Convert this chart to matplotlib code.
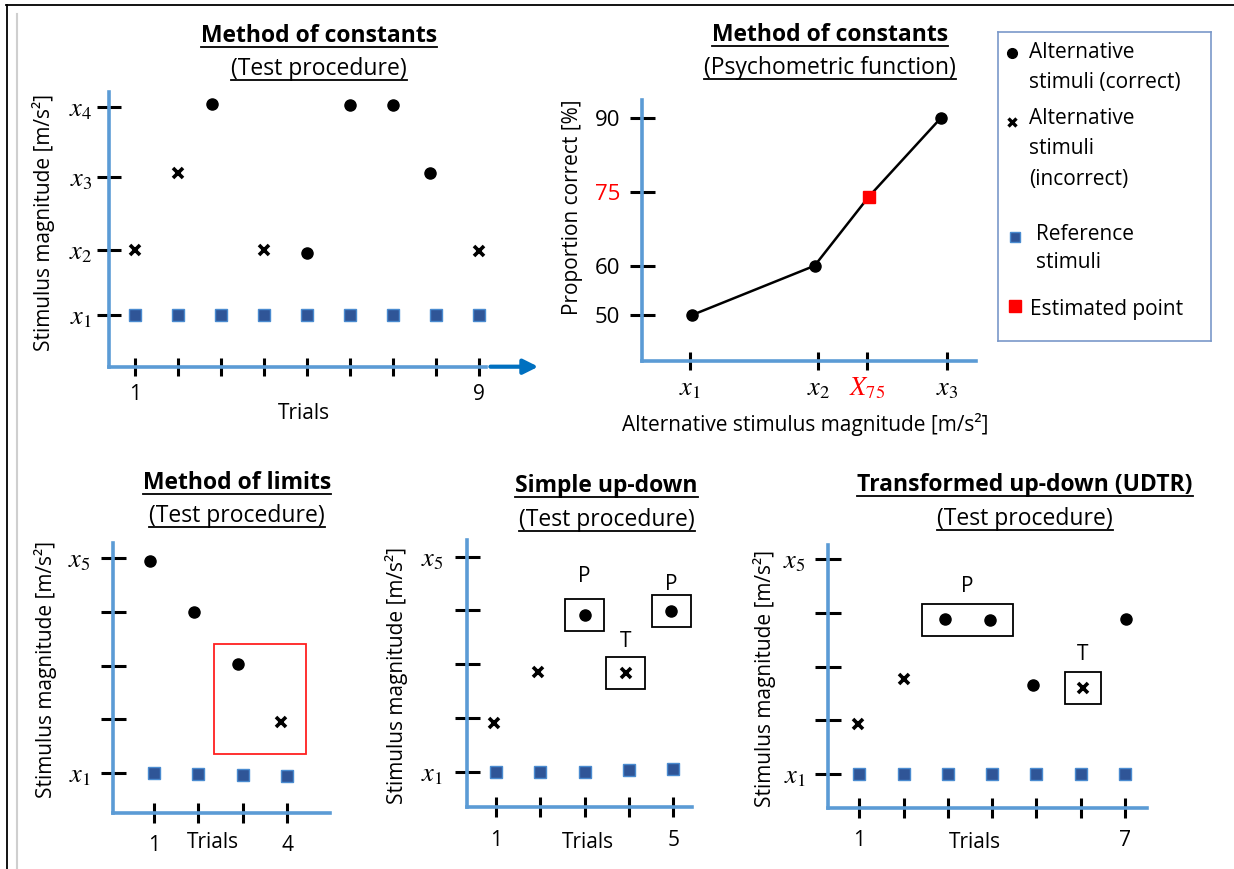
import matplotlib
matplotlib.use('Agg')
import matplotlib.pyplot as plt
from matplotlib.patches import Rectangle
from matplotlib.lines import Line2D

plt.rcParams['font.family'] = ['Open Sans', 'DejaVu Sans']
plt.rcParams['mathtext.fontset'] = 'stix'

W, H = 1234, 869
AXIS_BLUE = '#5B9BD5'
ARROW_BLUE = '#0070C0'
REF_FACE = '#2F5597'
REF_EDGE = '#4A8BD0'

# method of constants - test procedure (9 trials, 4 levels)
const_trials = [1, 2, 3, 4, 5, 6, 7, 8, 9]
const_ref = [1, 1, 1, 1, 1, 1, 1, 1, 1]
const_hit_trials = [2.8, 5, 6, 7, 7.85]
const_hit_levels = [4.05, 1.9, 4.03, 4.03, 3.05]
const_miss_trials = [1, 2, 4, 9]
const_miss_levels = [1.94, 3.05, 1.94, 1.92]
const_levels = [1, 1.94, 3.0, 4]
const_level_labels = ['$x_1$', '$x_2$', '$x_3$', '$x_4$']

# method of constants - psychometric function
psy_x = [1.02, 1.97, 2.39, 2.95]
psy_pc = [50, 60, 74, 90]
est_x = 2.39
est_pc = 74
psy_xticks = [1, 2, 2.38, 3]
psy_xlabels = ['$x_1$', '$x_2$', '$X_{75}$', '$x_3$']
psy_yticks = [50, 60, 75, 90]

# method of limits
lim_trials = [1, 2, 3, 4]
lim_ref = [1, 0.98, 0.96, 0.95]
lim_hit_trials = [0.92, 1.9, 2.9]
lim_hit_levels = [4.93, 4.0, 3.02]
lim_miss_trials = [3.85]
lim_miss_levels = [1.95]

# simple up-down
sud_trials = [1, 2, 3, 4, 5]
sud_ref = [1.0, 0.99, 1.0, 1.04, 1.05]
sud_hit_trials = [3, 4.95]
sud_hit_levels = [3.92, 3.99]
sud_miss_trials = [0.96, 1.94, 3.93]
sud_miss_levels = [1.9, 2.85, 2.83]

# transformed up-down (UDTR)
udtr_trials = [1, 2, 3, 4, 5, 6, 7]
udtr_ref = [1, 1, 1, 1, 1, 1, 1]
udtr_hit_trials = [2.93, 3.95, 4.92, 7.02]
udtr_hit_levels = [3.88, 3.87, 2.66, 3.88]
udtr_miss_trials = [0.97, 2.0, 6.05]
udtr_miss_levels = [1.93, 2.77, 2.6]

levels5 = [1, 2, 3, 4, 5]
levels5_labels = ['$x_1$', '', '', '', '$x_5$']

fig = plt.figure(figsize=(W / 100, H / 100), dpi=100)
fig.patch.set_facecolor('white')


def make_axes(x0, y0, x1, y1):
    # pixel box (top-left origin) -> figure fraction
    return fig.add_axes([x0 / W, 1 - y1 / H, (x1 - x0) / W, (y1 - y0) / H])


def fit_lim(a0, a1, p1, v1, p2, v2):
    s = (v2 - v1) / (p2 - p1)
    return v1 + (a0 - p1) * s, v1 + (a1 - p1) * s


def style(ax, ylen, xlen, ypad, xpad, ysize=19, xsize=15):
    for s in ['top', 'right']:
        ax.spines[s].set_visible(False)
    for s in ['left', 'bottom']:
        ax.spines[s].set_color(AXIS_BLUE)
        ax.spines[s].set_linewidth(2.6)
    ax.tick_params(direction='inout', color='k', width=2.2)
    ax.tick_params(axis='y', length=ylen, pad=ypad, labelsize=ysize)
    ax.tick_params(axis='x', length=xlen, pad=xpad, labelsize=xsize)
    ax.patch.set_alpha(0)


def label_at(ax, box, xlabel, xpos, ylabel, ypos):
    x0, y0, x1, y1 = box
    ax.set_xlabel(xlabel, fontsize=15)
    ax.xaxis.label.set_va('center')
    ax.xaxis.set_label_coords((xpos[0] - x0) / (x1 - x0), (y1 - xpos[1]) / (y1 - y0))
    ax.set_ylabel(ylabel, fontsize=15)
    ax.yaxis.label.set_va('center')
    ax.yaxis.label.set_ha('center')
    ax.yaxis.set_label_coords((ypos[0] - x0) / (x1 - x0), (y1 - ypos[1]) / (y1 - y0))


def draw_trials(ax, trials, ref, hit_t, hit_l, miss_t, miss_l):
    ax.plot(trials, ref, 's', ms=8, mfc=REF_FACE, mec=REF_EDGE, mew=1, clip_on=False)
    ax.plot(hit_t, hit_l, 'o', ms=8, color='k', clip_on=False)
    ax.plot(miss_t, miss_l, 'x', ms=7, mew=2.6, color='k', clip_on=False)


def mark_box(ax, trials, level, text=None, dx=0.44, dy=0.3, text_dy=0.35, color='k'):
    t0, t1 = min(trials) - dx, max(trials) + dx
    ax.add_patch(Rectangle((t0, level - dy), t1 - t0, 2 * dy, fill=False,
                           ec=color, lw=1.3, clip_on=False))
    if text:
        ax.text((t0 + t1) / 2, level + dy + text_dy, text, ha='center', va='center',
                fontsize=15)


underlines = []


def title(cx, base, s, bold):
    t = fig.text(cx / W, 1 - base / H, s, ha='center', va='baseline', fontsize=16.5,
                 fontweight='bold' if bold else 'normal', color='k')
    underlines.append((t, base + 5))


# ---- method of constants: test procedure ----
b1 = (109.3, 92, 485.7, 366.7)
ax1 = make_axes(*b1)
style(ax1, 17.5, 12.5, 3.5, 6)
ax1.set_xlim(fit_lim(b1[0], b1[2], 135, 1, 436, 8))
ax1.set_ylim(fit_lim(b1[3], b1[1], 315, 1, 107.3, 4))
ax1.set_xticks(const_trials)
ax1.set_xticklabels(['1', '', '', '', '', '', '', '', '9'])
ax1.set_yticks(const_levels)
ax1.set_yticklabels(const_level_labels)
draw_trials(ax1, const_trials, const_ref, const_hit_trials, const_hit_levels,
            const_miss_trials, const_miss_levels)
label_at(ax1, b1, 'Trials', (303.6, 413), 'Stimulus magnitude [m/s²]', (43, 222.5))
ax1.annotate('', xy=(1.147, 0), xytext=(1.005, 0), xycoords='axes fraction',
             arrowprops=dict(arrowstyle='-|>', color=ARROW_BLUE, lw=3, mutation_scale=22),
             annotation_clip=False)
title(319, 41.7, 'Method of constants', True)
title(319, 75, '(Test procedure)', False)

# ---- method of constants: psychometric function ----
b2 = (641.8, 100, 976, 361)
ax2 = make_axes(*b2)
style(ax2, 18, 13.5, 6.5, 4, ysize=16, xsize=19)
ax2.set_xlim(fit_lim(b2[0], b2[2], 689.6, 1, 947.3, 3))
ax2.set_ylim(fit_lim(b2[3], b2[1], 315, 50, 118, 90))
ax2.set_xticks(psy_xticks)
ax2.set_xticklabels(psy_xlabels)
ax2.set_yticks(psy_yticks)
ax2.set_yticklabels([str(v) for v in psy_yticks])
ax2.xaxis.get_major_ticks()[2].tick1line.set_color('red')
ax2.get_xticklabels()[2].set_color('red')
ax2.yaxis.get_major_ticks()[2].tick1line.set_color('red')
ax2.get_yticklabels()[2].set_color('red')
ax2.plot(psy_x, psy_pc, '-', color='k', lw=1.8, zorder=3)
ax2.plot([psy_x[0], psy_x[1], psy_x[3]], [psy_pc[0], psy_pc[1], psy_pc[3]], 'o',
         ms=8, color='k', zorder=4)
ax2.plot([est_x], [est_pc], 's', ms=8, color='red', zorder=5)
label_at(ax2, b2, 'Alternative stimulus magnitude [m/s²]', (805.6, 424),
         'Proportion correct [%]', (573, 207.5))
title(830, 40.7, 'Method of constants', True)
title(830, 74, '(Psychometric function)', False)

# ---- legend ----
lg = make_axes(998, 32, 1210.6, 341)
lg.set_xlim(0, 212.6)
lg.set_ylim(309, 0)
lg.set_xticks([])
lg.set_yticks([])
for s in lg.spines.values():
    s.set_color('#7A98C9')
    s.set_linewidth(1.2)
lg.plot([13.5], [21.3], 'o', ms=7, color='k')
lg.plot([14], [89.7], 'x', ms=6, mew=2.4, color='k')
lg.plot([17], [205], 's', ms=7, mfc=REF_FACE, mec=REF_EDGE, mew=1)
lg.plot([17], [274], 's', ms=8, color='red')
legend_rows = [
    (31, [(21, 'Alternative'), (50.7, 'stimuli (correct)')]),
    (31, [(87, 'Alternative'), (116, 'stimuli'), (148, '(incorrect)')]),
    (37.8, [(202, 'Reference'), (231, 'stimuli')]),
    (32.5, [(277, 'Estimated point')]),
]
for lx, rows in legend_rows:
    for ly, s in rows:
        lg.text(lx, ly, s, ha='left', va='center', fontsize=15)

# ---- method of limits ----
b3 = (113, 543.3, 330, 812.7)
ax3 = make_axes(*b3)
style(ax3, 18, 14, 7, 9)
ax3.set_xlim(fit_lim(b3[0], b3[2], 154, 1, 287.3, 4))
ax3.set_ylim(fit_lim(b3[3], b3[1], 773.3, 1, 557.7, 5))
ax3.set_xticks(lim_trials)
ax3.set_xticklabels(['1', '', '', '4'])
ax3.set_yticks(levels5)
ax3.set_yticklabels(levels5_labels)
draw_trials(ax3, lim_trials, lim_ref, lim_hit_trials, lim_hit_levels,
            lim_miss_trials, lim_miss_levels)
# last correct / first incorrect pair
t0, t1 = lim_hit_trials[-1] - 0.55, lim_miss_trials[-1] + 0.57
l0, l1 = lim_miss_levels[-1] - 0.6, lim_hit_levels[-1] + 0.38
ax3.add_patch(Rectangle((t0, l0), t1 - t0, l1 - l0, fill=False, ec='#FF2020', lw=1.3,
                        clip_on=False))
label_at(ax3, b3, 'Trials', (213, 843), 'Stimulus magnitude [m/s²]', (45, 670))
title(236.7, 489.3, 'Method of limits', True)
title(236.7, 521.7, '(Test procedure)', False)

# ---- simple up-down ----
b4 = (466.7, 540, 691.7, 807.3)
ax4 = make_axes(*b4)
style(ax4, 18, 14, 8, 9)
ax4.set_xlim(fit_lim(b4[0], b4[2], 496, 1, 673.3, 5))
ax4.set_ylim(fit_lim(b4[3], b4[1], 771.7, 1, 556.7, 5))
ax4.set_xticks(sud_trials)
ax4.set_xticklabels(['1', '', '', '', '5'])
ax4.set_yticks(levels5)
ax4.set_yticklabels(levels5_labels)
draw_trials(ax4, sud_trials, sud_ref, sud_hit_trials, sud_hit_levels,
            sud_miss_trials, sud_miss_levels)
mark_box(ax4, [sud_hit_trials[0]], sud_hit_levels[0], 'P', text_dy=0.42)
mark_box(ax4, [sud_miss_trials[2]], sud_miss_levels[2], 'T', text_dy=0.3)
mark_box(ax4, [sud_hit_trials[1]], sud_hit_levels[1], 'P', text_dy=0.2)
label_at(ax4, b4, 'Trials', (588.3, 843), 'Stimulus magnitude [m/s²]', (396.7, 675.8))
title(606.7, 491.7, 'Simple up-down', True)
title(606.7, 526, '(Test procedure)', False)

# ---- transformed up-down ----
b5 = (828.3, 545, 1146.7, 807.7)
ax5 = make_axes(*b5)
style(ax5, 19, 14, 7, 9)
ax5.set_xlim(fit_lim(b5[0], b5[2], 859.3, 1, 1125, 7))
ax5.set_ylim(fit_lim(b5[3], b5[1], 774.3, 1, 559, 5))
ax5.set_xticks(udtr_trials)
ax5.set_xticklabels(['1', '', '', '', '', '', '7'])
ax5.set_yticks(levels5)
ax5.set_yticklabels(levels5_labels)
draw_trials(ax5, udtr_trials, udtr_ref, udtr_hit_trials, udtr_hit_levels,
            udtr_miss_trials, udtr_miss_levels)
mark_box(ax5, udtr_hit_trials[:2], 3.87, 'P', dx=0.52, text_dy=0.32)
mark_box(ax5, [udtr_miss_trials[2]], udtr_miss_levels[2], 'T', dx=0.4, text_dy=0.32)
label_at(ax5, b5, 'Trials', (975, 843), 'Stimulus magnitude [m/s²]', (764, 678.3))
title(1025, 491, 'Transformed up-down (UDTR)', True)
title(1025, 525, '(Test procedure)', False)

# frame lines
fig.add_artist(Line2D([6 / W, 1], [1 - 5 / H, 1 - 5 / H], color='k', lw=1.3))
fig.add_artist(Line2D([6.5 / W, 6.5 / W], [0, 1 - 5 / H], color='k', lw=1.3))
fig.add_artist(Line2D([16.5 / W, 16.5 / W], [0, 1 - 14 / H], color='#CFCFCF', lw=1.5))

# underline the titles
fig.canvas.draw()
for t, y in underlines:
    bb = t.get_window_extent()
    fig.add_artist(Line2D([bb.x0 / W, bb.x1 / W], [1 - y / H, 1 - y / H], color='k', lw=1.3))

fig.savefig('out.png', dpi=100)
